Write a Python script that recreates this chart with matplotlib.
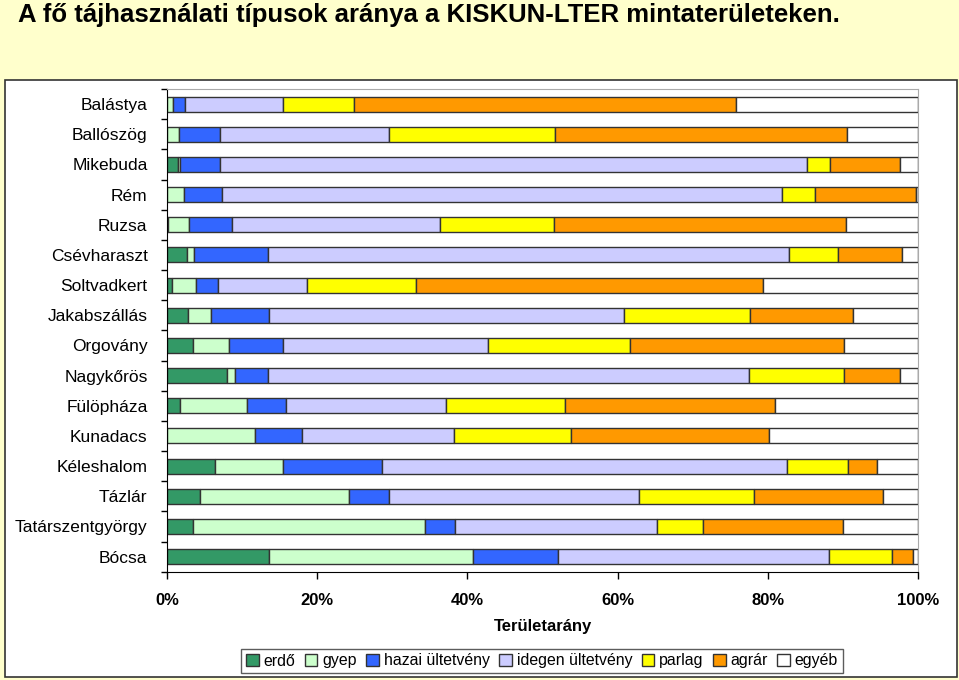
import numpy as np
import matplotlib.pyplot as plt
from matplotlib.patches import Rectangle, Patch
from matplotlib.ticker import FixedLocator, PercentFormatter

plt.rcParams['font.family'] = ['Liberation Sans', 'DejaVu Sans']

sites = ['Balástya', 'Ballószög', 'Mikebuda', 'Rém', 'Ruzsa', 'Csévharaszt',
         'Soltvadkert', 'Jakabszállás', 'Orgovány', 'Nagykőrös', 'Fülöpháza',
         'Kunadacs', 'Kéleshalom', 'Tázlár', 'Tatárszentgyörgy', 'Bócsa']

# shares in percent
erdo   = [0.0, 0.0, 1.5, 0.0, 0.1, 2.7, 0.6, 2.8, 3.4, 8.0, 1.7, 0.0, 6.4, 4.4, 3.5, 13.6]
gyep   = [0.8, 1.6, 0.2, 2.3, 2.8, 0.9, 3.2, 3.1, 4.8, 1.1, 9.0, 11.7, 9.0, 19.9, 30.9, 27.2]
hazai  = [1.6, 5.5, 5.3, 5.0, 5.7, 9.9, 3.0, 7.7, 7.3, 4.3, 5.2, 6.3, 13.2, 5.2, 4.0, 11.2]
idegen = [13.1, 22.4, 78.2, 74.6, 27.7, 69.3, 11.8, 47.3, 27.2, 64.1, 21.3, 20.2, 54.0, 33.4, 26.9, 36.1]
parlag = [9.4, 22.2, 3.1, 4.4, 15.2, 6.5, 14.6, 16.7, 18.9, 12.7, 15.8, 15.6, 8.1, 15.3, 6.1, 8.4]
agrar  = [50.8, 38.9, 9.3, 13.5, 38.9, 8.6, 46.1, 13.7, 28.6, 7.4, 28.0, 26.4, 3.8, 17.1, 18.6, 2.9]

labels = ['erdő', 'gyep', 'hazai ültetvény', 'idegen ültetvény', 'parlag', 'agrár', 'egyéb']
colors = ['#339966', '#CCFFCC', '#3366FF', '#CCCCFF', '#FFFF00', '#FF9900', '#FFFFFF']

parts = np.array([erdo, gyep, hazai, idegen, parlag, agrar])
egyeb = 100 - parts.sum(axis=0)
parts = np.vstack([parts, egyeb])

fig = plt.figure(figsize=(9.59, 6.80), dpi=100)
fig.patch.set_facecolor('#FFFFCC')

# white chart area with dark frame
fig.patches.append(Rectangle((5 / 959, 3 / 680), 952 / 959, 597 / 680,
                             transform=fig.transFigure, facecolor='white',
                             edgecolor='#333333', linewidth=1.2, zorder=-5))

fig.text(18 / 959, 1 - 15 / 680, 'A fő tájhasználati típusok aránya a KISKUN-LTER mintaterületeken.',
         fontsize=18.5, fontweight='bold', va='center', ha='left')

ax = fig.add_axes([167 / 959, 108.3 / 680, 751 / 959, 482.7 / 680], zorder=2)
ax.set_facecolor('white')

y = np.arange(len(sites))
left = np.zeros(len(sites))
for vals, lab, col in zip(parts, labels, colors):
    ax.barh(y, vals, left=left, height=0.5, color=col, edgecolor='#333333',
            linewidth=1.0, label=lab)
    left += vals

ax.set_ylim(len(sites) - 0.5, -0.5)
ax.set_xlim(0, 100)
ax.set_yticks(y)
ax.set_yticklabels(sites, fontsize=12.5)
ax.yaxis.set_minor_locator(FixedLocator(np.arange(-0.5, len(sites), 1)))
ax.tick_params(axis='y', which='major', length=0, pad=14)
ax.tick_params(axis='y', which='minor', length=4, width=1, direction='out')

ax.set_xticks(np.arange(0, 101, 20))
ax.xaxis.set_major_formatter(PercentFormatter(decimals=0))
ax.tick_params(axis='x', length=5, width=1, direction='out', pad=10)
for t in ax.get_xticklabels():
    t.set_fontsize(12)
    t.set_fontweight('bold')
ax.set_xlabel('Területarány', fontsize=12, fontweight='bold', labelpad=8)

ax.spines['left'].set_color('black')
ax.spines['bottom'].set_color('black')
ax.spines['top'].set_color('#AAAAAA')
ax.spines['right'].set_color('#AAAAAA')

handles = [Patch(facecolor=c, edgecolor='#333333', label=l) for l, c in zip(labels, colors)]
leg = fig.legend(handles=handles, loc='center', bbox_to_anchor=(542 / 959, 1 - 661 / 680),
                 ncol=7, fontsize=11.4, frameon=True, fancybox=False, edgecolor='#333333',
                 handlelength=0.8, handleheight=0.8, handletextpad=0.3, columnspacing=0.6,
                 borderpad=0.3, borderaxespad=0)
leg.get_frame().set_linewidth(1.0)

fig.savefig('out.png', dpi=100, facecolor=fig.get_facecolor())
